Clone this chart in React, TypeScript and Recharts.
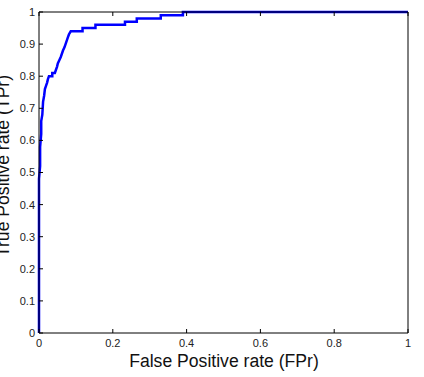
import React from 'react';
import { LineChart, Line, XAxis, YAxis } from 'recharts';

// ROC curve
const fpr = [
  0, 0, 0.003, 0.003, 0.006, 0.006, 0.009, 0.011, 0.014, 0.016, 0.019, 0.022, 0.024, 0.027,
  0.036, 0.036, 0.043, 0.046, 0.049, 0.051, 0.055, 0.059, 0.062, 0.065, 0.069, 0.072, 0.075,
  0.078, 0.081, 0.086, 0.118, 0.118, 0.153, 0.153, 0.233, 0.233, 0.265, 0.265, 0.33, 0.33,
  0.39, 0.39, 1.0,
];
const tpr = [
  0, 0.48, 0.52, 0.58, 0.62, 0.66, 0.68, 0.72, 0.74, 0.76, 0.77, 0.78, 0.79, 0.8,
  0.8, 0.81, 0.81, 0.82, 0.83, 0.84, 0.85, 0.86, 0.87, 0.88, 0.89, 0.9, 0.91,
  0.92, 0.93, 0.94, 0.94, 0.95, 0.95, 0.96, 0.96, 0.97, 0.97, 0.98, 0.98, 0.99,
  0.99, 1.0, 1.0,
];
const xTicks = [0, 0.2, 0.4, 0.6, 0.8, 1];
const yTicks = [0, 0.1, 0.2, 0.3, 0.4, 0.5, 0.6, 0.7, 0.8, 0.9, 1];

const data = fpr.map((x, i) => ({ fpr: x, tpr: tpr[i] }));

const FONT = '"Liberation Sans", Arial, sans-serif';
const noLabel = () => <g />;

export default function App() {
  return (
    <div style={{ position: 'absolute', left: 0, top: 0, width: 424, height: 377, background: '#fff' }}>
      <LineChart width={424} height={377} data={data} margin={{ top: 11, right: 15, bottom: 43, left: 38 }}>
        <XAxis
          xAxisId="b"
          dataKey="fpr"
          type="number"
          domain={[0, 1]}
          ticks={xTicks}
          height={1}
          stroke="#000"
          tickSize={-4}
          tickMargin={10}
          tick={{ fill: '#222', fontSize: 11, fontFamily: FONT }}
        />
        <XAxis
          xAxisId="t"
          dataKey="fpr"
          type="number"
          orientation="top"
          domain={[0, 1]}
          ticks={xTicks}
          height={1}
          stroke="#000"
          tickSize={-4}
          tick={noLabel}
        />
        <YAxis
          yAxisId="l"
          type="number"
          domain={[0, 1]}
          ticks={yTicks}
          width={1}
          stroke="#000"
          tickSize={-4}
          tickMargin={8}
          tick={{ fill: '#222', fontSize: 11, fontFamily: FONT }}
        />
        <YAxis
          yAxisId="r"
          type="number"
          orientation="right"
          domain={[0, 1]}
          ticks={yTicks}
          width={1}
          stroke="#000"
          tickSize={-4}
          tick={noLabel}
        />
        <Line
          xAxisId="b"
          yAxisId="l"
          dataKey="tpr"
          type="linear"
          stroke="#0000ff"
          strokeWidth={2.5}
          dot={false}
          isAnimationActive={false}
        />
      </LineChart>
      <svg width={424} height={377} style={{ position: 'absolute', left: 0, top: 0, pointerEvents: 'none' }}>
        <text x={224} y={367} textAnchor="middle" fontSize={17.6} fontFamily={FONT} fill="#111">
          False Positive rate (FPr)
        </text>
        <text
          x={9}
          y={166}
          textAnchor="middle"
          fontSize={17.6}
          fontFamily={FONT}
          fill="#111"
          transform="rotate(-90 9 166)"
        >
          True Positive rate (TPr)
        </text>
      </svg>
    </div>
  );
}
